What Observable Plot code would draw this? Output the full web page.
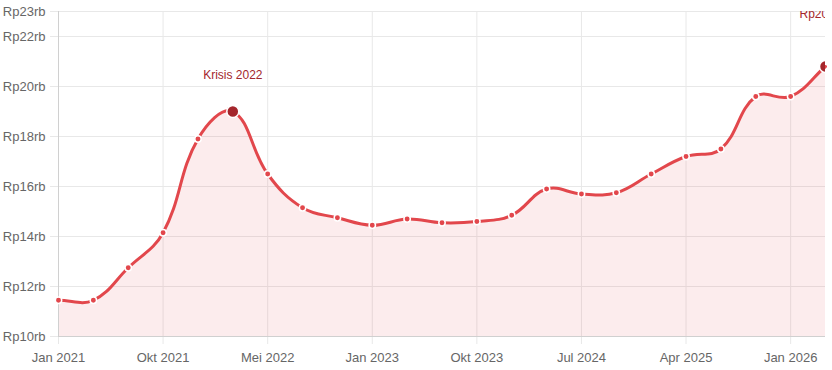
<!DOCTYPE html>
<html>
<head>
<meta charset="utf-8">
<script src="https://cdn.jsdelivr.net/npm/d3@7"></script>
<script src="https://cdn.jsdelivr.net/npm/@observablehq/plot@0.6"></script>
<style>
  html, body { margin: 0; padding: 0; background: #fff; }
  #chart { width: 832px; height: 370px; }
</style>
</head>
<body>
<div id="chart"></div>
<script>
const labels = ["Jan 2021","Apr 2021","Jul 2021","Okt 2021","Jan 2022","Mar 2022","Mei 2022","Jul 2022","Okt 2022","Jan 2023","Apr 2023","Jul 2023","Okt 2023","Jan 2024","Apr 2024","Jul 2024","Okt 2024","Jan 2025","Apr 2025","Jul 2025","Okt 2025","Jan 2026","Apr 2026"];
const values = [11.45, 11.45, 12.75, 14.15, 17.9, 19.0, 16.5, 15.15, 14.75, 14.45, 14.7, 14.55, 14.6, 14.85, 15.9, 15.7, 15.75, 16.5, 17.2, 17.5, 19.6, 19.6, 20.8];
const xTickLabels = ["Jan 2021","Okt 2021","Mei 2022","Jan 2023","Okt 2023","Jul 2024","Apr 2025","Jan 2026"];
const yTicks = [10, 12, 14, 16, 18, 20, 22, 23];
const highlightLabels = ["Mar 2022", "Apr 2026"];
const highlightTexts = ["Krisis 2022", "Rp20.800"];

const data = labels.map((label, i) => ({label, value: values[i]}));
const normal = data.filter(d => !highlightLabels.includes(d.label));
const highlights = highlightLabels.map((l, i) => ({label: l, value: values[labels.indexOf(l)], text: highlightTexts[i]}));

// Chart.js-like spline (tension 0.4)
class ChartJsCurve {
  constructor(ctx) { this._context = ctx; }
  areaStart() { this._line = 0; }
  areaEnd() { this._line = NaN; }
  lineStart() { this._pts = []; }
  point(x, y) { this._pts.push([+x, +y]); }
  lineEnd() {
    const p = this._pts, n = p.length, c = this._context, t = 0.4;
    if (n) {
      if (this._line) c.lineTo(p[0][0], p[0][1]); else c.moveTo(p[0][0], p[0][1]);
      const cp = p.map((pt, i) => {
        const prev = p[Math.max(0, i - 1)], next = p[Math.min(n - 1, i + 1)];
        const d01 = Math.hypot(pt[0] - prev[0], pt[1] - prev[1]);
        const d12 = Math.hypot(next[0] - pt[0], next[1] - pt[1]);
        let s01 = d01 / (d01 + d12), s12 = d12 / (d01 + d12);
        if (isNaN(s01)) s01 = 0; if (isNaN(s12)) s12 = 0;
        const fa = t * s01, fb = t * s12;
        return {
          px: pt[0] - fa * (next[0] - prev[0]), py: pt[1] - fa * (next[1] - prev[1]),
          nx: pt[0] + fb * (next[0] - prev[0]), ny: pt[1] + fb * (next[1] - prev[1])
        };
      });
      for (let i = 1; i < n; i++) c.bezierCurveTo(cp[i-1].nx, cp[i-1].ny, cp[i].px, cp[i].py, p[i][0], p[i][1]);
    }
    if (this._line || (this._line !== 0 && n === 1)) c.closePath();
    this._line = 1 - this._line;
  }
}
const cjCurve = ctx => new ChartJsCurve(ctx);

const lineColor = "#e2474c";
const darkRed = "#a4262c";
const gridColor = "#e8e8e8";

const chart = Plot.plot({
  width: 832,
  height: 370,
  marginLeft: 58,
  marginRight: 7,
  marginTop: 11,
  marginBottom: 34,
  style: {fontFamily: "'Liberation Sans', Arial, Helvetica, sans-serif", fontSize: "13px", background: "#fff", color: "#666"},
  x: {type: "point", domain: labels, padding: 0, round: false, label: null},
  y: {domain: [10, 23], label: null},
  marks: [
    Plot.gridY(yTicks, {stroke: gridColor, strokeOpacity: 1}),
    Plot.gridX(xTickLabels, {stroke: gridColor, strokeOpacity: 1}),
    Plot.axisY(yTicks, {tickSize: 8, tickPadding: 5, stroke: gridColor, fill: "#666", tickFormat: d => `Rp${d}rb`, label: null}),
    Plot.axisX(xTickLabels, {tickSize: 8, tickPadding: 8, stroke: gridColor, fill: "#666", label: null}),
    Plot.areaY(data, {x: "label", y1: 10, y2: "value", fill: lineColor, fillOpacity: 0.1, curve: cjCurve}),
    Plot.ruleX([labels[0]], {stroke: "#d0d0d0"}),
    Plot.ruleY([10], {stroke: "#d0d0d0"}),
    Plot.lineY(data, {x: "label", y: "value", stroke: lineColor, strokeWidth: 3, curve: cjCurve}),
    Plot.dot(normal, {x: "label", y: "value", r: 3.2, fill: lineColor, stroke: "#fff", strokeWidth: 1.5}),
    Plot.dot(highlights, {x: "label", y: "value", r: 6, fill: darkRed, stroke: "#fff", strokeWidth: 1.5, clip: true}),
    Plot.text(highlights.slice(0, 1), {x: "label", y: "value", text: "text", dy: -36, fill: darkRed, fontSize: 12, clip: true}),
    Plot.text(highlights.slice(1), {x: "label", y: "value", text: "text", dy: -52, fill: darkRed, fontSize: 12, clip: true})
  ]
});
document.getElementById("chart").appendChild(chart);
</script>
</body>
</html>
